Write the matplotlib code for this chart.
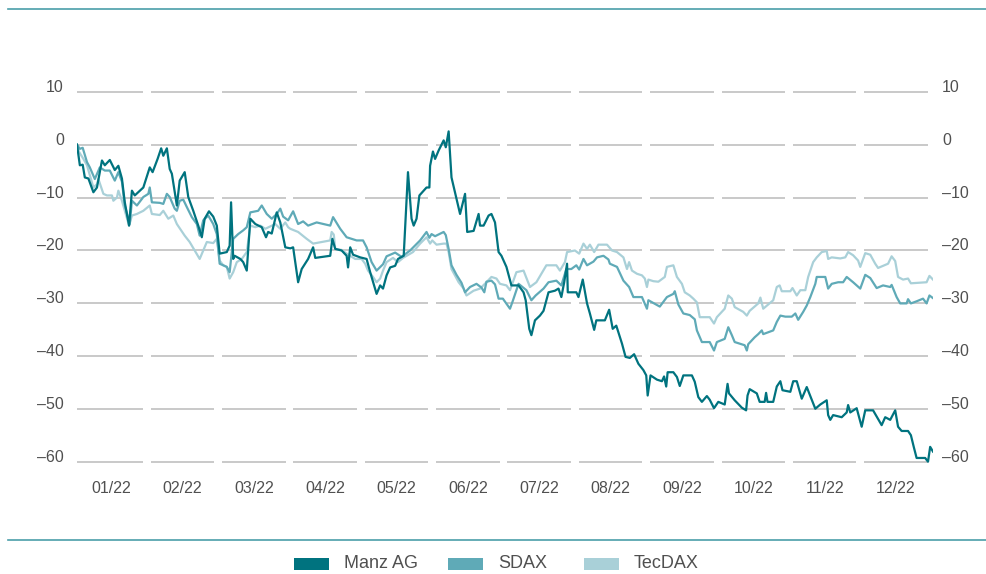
import matplotlib.pyplot as plt
from matplotlib.lines import Line2D
from matplotlib.patches import Rectangle

# x values are months since 1 Jan 2022, y values are % change
months = ['01/22', '02/22', '03/22', '04/22', '05/22', '06/22',
          '07/22', '08/22', '09/22', '10/22', '11/22', '12/22']
yticks = [10, 0, -10, -20, -30, -40, -50, -60]

manz_t = [0.00, 0.04, 0.08, 0.11, 0.16, 0.23, 0.28, 0.35, 0.39, 0.46, 0.53, 0.58, 0.63, 0.67,
          0.73, 0.77, 0.81, 0.93, 1.02, 1.06, 1.13, 1.18, 1.21, 1.26, 1.30, 1.33, 1.40, 1.44,
          1.51, 1.56, 1.63, 1.70, 1.75, 1.79, 1.85, 1.91, 1.96, 2.00, 2.10, 2.14, 2.16, 2.19,
          2.21, 2.29, 2.33, 2.38, 2.43, 2.50, 2.59, 2.65, 2.68, 2.73, 2.80, 2.85, 2.92, 2.99,
          3.03, 3.10, 3.15, 3.24, 3.31, 3.34, 3.55, 3.58, 3.62, 3.71, 3.78, 3.80, 3.83, 3.87,
          3.97, 4.06, 4.11, 4.20, 4.25, 4.29, 4.34, 4.39, 4.46, 4.50, 4.58, 4.64, 4.69, 4.72,
          4.76, 4.80, 4.90, 4.94, 4.95, 4.99, 5.02, 5.07, 5.14, 5.17, 5.21, 5.25, 5.37, 5.44,
          5.47, 5.56, 5.63, 5.65, 5.70, 5.77, 5.81, 5.86, 5.91, 5.95, 6.02, 6.09, 6.19, 6.26,
          6.29, 6.34, 6.37, 6.42, 6.49, 6.54, 6.61, 6.70, 6.75, 6.79, 6.83, 6.87, 6.88, 7.00,
          7.03, 7.09, 7.15, 7.19, 7.25, 7.28, 7.40, 7.46, 7.51, 7.56, 7.64, 7.69, 7.75, 7.81,
          7.87, 7.94, 7.98, 8.00, 8.04, 8.13, 8.20, 8.23, 8.26, 8.28, 8.36, 8.41, 8.45, 8.50,
          8.62, 8.66, 8.71, 8.76, 8.83, 8.87, 8.93, 8.99, 9.08, 9.12, 9.14, 9.22, 9.32, 9.38,
          9.40, 9.43, 9.53, 9.57, 9.64, 9.66, 9.68, 9.76, 9.81, 9.86, 9.89, 10.00, 10.04, 10.09,
          10.16, 10.23, 10.35, 10.42, 10.51, 10.53, 10.56, 10.60, 10.72, 10.79, 10.81, 10.84,
          10.93, 11.00, 11.05, 11.16, 11.28, 11.33, 11.40, 11.47, 11.51, 11.56, 11.65, 11.69,
          11.73, 11.77, 11.89, 11.93, 11.96, 12.00]
manz_v = [0.0, -3.9, -3.8, -6.2, -6.4, -9.0, -8.1, -3.0, -3.9, -2.9, -4.8, -4.0, -6.4, -10.9,
          -15.3, -8.7, -9.6, -8.1, -4.3, -5.2, -2.7, -0.7, -2.1, -0.7, -4.6, -5.5, -11.5, -6.8,
          -5.2, -9.9, -12.5, -15.3, -17.5, -14.0, -12.6, -13.6, -15.3, -20.6, -20.3, -19.1, -10.9, -21.6,
          -21.0, -21.6, -22.2, -23.8, -14.0, -15.0, -15.6, -17.5, -16.5, -16.8, -12.8, -14.7, -19.4, -19.6,
          -19.4, -26.0, -23.5, -21.6, -19.4, -21.4, -21.0, -17.8, -19.7, -20.0, -21.0, -23.2, -19.4, -20.8,
          -21.3, -21.6, -24.1, -28.2, -26.6, -27.2, -24.7, -23.2, -22.9, -21.6, -21.0, -5.2, -14.0, -15.3,
          -14.0, -9.6, -8.1, -8.1, -4.0, -1.3, -2.7, -1.1, 0.8, -0.5, 2.5, -6.2, -13.1, -9.3,
          -16.5, -16.3, -13.1, -15.3, -15.3, -13.4, -13.1, -14.7, -20.3, -21.0, -23.1, -26.6, -26.6, -27.9,
          -29.4, -34.8, -36.0, -33.2, -32.3, -31.4, -27.9, -27.6, -27.2, -28.8, -26.0, -22.5, -27.9, -27.9,
          -28.8, -25.5, -30.0, -31.9, -35.0, -33.2, -33.2, -31.2, -34.8, -34.2, -37.6, -40.1, -40.3, -39.6,
          -41.4, -42.6, -43.6, -47.4, -43.6, -44.4, -44.7, -43.8, -45.7, -43.0, -43.0, -43.9, -45.6, -43.6,
          -43.6, -44.8, -47.7, -48.6, -47.5, -48.2, -49.8, -48.6, -49.1, -45.2, -47.0, -48.3, -49.7, -50.2,
          -47.4, -46.2, -47.0, -48.6, -48.6, -46.9, -48.6, -48.6, -45.7, -44.7, -46.4, -46.7, -44.7, -44.7,
          -48.0, -45.8, -49.9, -49.1, -48.3, -51.1, -52.0, -51.1, -51.5, -50.6, -49.2, -50.6,
          -49.8, -53.3, -50.2, -50.2, -53.0, -51.5, -52.0, -50.2, -53.3, -54.1, -54.1, -54.9,
          -57.1, -59.2, -59.2, -59.9, -57.1, -58.0]

sdax_t = [0.00, 0.04, 0.08, 0.14, 0.18, 0.25, 0.32, 0.39, 0.46, 0.53, 0.58, 0.63, 0.67, 0.72,
          0.74, 0.77, 0.84, 0.93, 1.00, 1.02, 1.05, 1.16, 1.21, 1.26, 1.30, 1.37, 1.40, 1.44,
          1.49, 1.54, 1.61, 1.68, 1.72, 1.77, 1.84, 1.91, 1.96, 2.00, 2.10, 2.14, 2.19, 2.26,
          2.33, 2.38, 2.43, 2.54, 2.59, 2.66, 2.73, 2.80, 2.85, 2.89, 2.96, 3.03, 3.10, 3.17,
          3.24, 3.36, 3.55, 3.59, 3.69, 3.78, 3.92, 4.01, 4.06, 4.13, 4.20, 4.29, 4.34, 4.46,
          4.55, 4.67, 4.81, 4.90, 4.94, 4.97, 5.02, 5.14, 5.17, 5.21, 5.25, 5.32, 5.39, 5.44,
          5.51, 5.60, 5.67, 5.71, 5.74, 5.81, 5.86, 5.91, 5.97, 6.07, 6.11, 6.19, 6.30, 6.37,
          6.43, 6.54, 6.61, 6.72, 6.79, 6.86, 6.93, 7.00, 7.04, 7.10, 7.15, 7.24, 7.29, 7.38,
          7.45, 7.47, 7.57, 7.66, 7.74, 7.80, 7.92, 7.99, 8.01, 8.17, 8.27, 8.36, 8.38, 8.43,
          8.50, 8.59, 8.66, 8.69, 8.76, 8.87, 8.93, 8.97, 9.08, 9.13, 9.18, 9.22, 9.36, 9.39,
          9.41, 9.50, 9.55, 9.60, 9.62, 9.76, 9.81, 9.86, 9.93, 10.02, 10.07, 10.11, 10.18, 10.23,
          10.28, 10.35, 10.37, 10.49, 10.53, 10.58, 10.67, 10.74, 10.79, 10.88, 10.98, 11.05, 11.12,
          11.21, 11.30, 11.40, 11.42, 11.49, 11.54, 11.63, 11.65, 11.69, 11.77, 11.86, 11.91, 11.95,
          12.00]
sdax_v = [0.0, -0.8, -0.6, -3.3, -4.3, -6.5, -4.3, -4.9, -4.9, -6.8, -5.2, -7.0, -11.5, -14.0,
          -15.0, -10.6, -11.5, -9.9, -9.3, -8.1, -10.9, -11.0, -11.2, -9.3, -9.9, -12.1, -12.5, -10.6,
          -10.4, -11.8, -13.7, -15.0, -17.2, -14.3, -13.4, -15.0, -16.9, -22.5, -23.1, -24.1, -17.8, -16.9,
          -16.2, -15.6, -12.8, -12.5, -11.5, -13.1, -14.0, -13.1, -12.1, -13.6, -14.3, -12.6, -15.0, -14.5,
          -15.3, -14.7, -15.3, -13.7, -15.9, -17.5, -18.1, -18.1, -19.4, -22.2, -23.8, -22.6, -21.1, -20.4,
          -21.2, -20.0, -18.1, -16.5, -17.6, -16.9, -17.3, -16.5, -17.1, -19.7, -22.8, -24.6, -26.1, -27.9,
          -26.9, -26.3, -27.0, -27.9, -25.9, -25.7, -26.4, -29.1, -29.1, -31.0, -29.5, -26.3, -27.5, -29.4,
          -28.5, -27.2, -26.0, -25.7, -26.6, -23.5, -23.5, -22.8, -23.6, -21.6, -22.8, -22.1, -21.3, -21.0,
          -21.7, -22.5, -23.1, -25.7, -26.9, -28.8, -28.8, -31.0, -29.4, -30.6, -28.8, -28.2, -27.7, -30.2,
          -31.9, -32.2, -33.0, -35.1, -37.3, -37.3, -38.9, -37.3, -36.7, -34.5, -36.0, -37.3, -37.9, -38.9,
          -37.7, -36.4, -35.8, -35.1, -35.8, -35.1, -33.5, -32.3, -32.5, -32.5, -31.9, -33.1, -31.6, -30.4,
          -28.8, -26.3, -25.0, -25.0, -27.2, -26.3, -26.0, -26.0, -25.0, -26.0, -27.2, -24.6, -25.2,
          -27.1, -26.6, -26.9, -26.5, -28.8, -30.0, -30.0, -29.2, -30.0, -29.6, -29.1, -30.0, -28.5,
          -29.0]

tecdax_t = [0.00, 0.03, 0.09, 0.14, 0.18, 0.23, 0.28, 0.30, 0.37, 0.42, 0.49, 0.51, 0.56, 0.58,
            0.63, 0.67, 0.73, 0.77, 0.84, 0.93, 1.02, 1.05, 1.16, 1.21, 1.28, 1.35, 1.40, 1.51,
            1.58, 1.65, 1.72, 1.77, 1.82, 1.91, 1.96, 2.00, 2.05, 2.10, 2.14, 2.19, 2.24, 2.31,
            2.38, 2.43, 2.50, 2.57, 2.64, 2.78, 2.85, 2.92, 2.96, 2.99, 3.10, 3.22, 3.31, 3.55,
            3.57, 3.60, 3.62, 3.71, 3.78, 3.90, 3.99, 4.04, 4.08, 4.15, 4.20, 4.25, 4.29, 4.34,
            4.43, 4.50, 4.57, 4.71, 4.81, 4.90, 4.95, 4.98, 5.04, 5.14, 5.18, 5.21, 5.25, 5.35,
            5.42, 5.46, 5.56, 5.65, 5.74, 5.81, 5.88, 5.93, 6.02, 6.07, 6.16, 6.26, 6.35, 6.44,
            6.58, 6.72, 6.77, 6.84, 6.87, 6.98, 7.04, 7.10, 7.15, 7.19, 7.25, 7.31, 7.43, 7.50,
            7.57, 7.66, 7.71, 7.74, 7.78, 7.85, 7.92, 7.96, 7.99, 8.01, 8.08, 8.15, 8.24, 8.27,
            8.36, 8.41, 8.48, 8.52, 8.59, 8.64, 8.69, 8.73, 8.87, 8.93, 8.97, 9.08, 9.13, 9.18,
            9.22, 9.34, 9.39, 9.43, 9.55, 9.58, 9.62, 9.76, 9.81, 9.85, 9.88, 10.00, 10.03, 10.09,
            10.14, 10.21, 10.25, 10.32, 10.37, 10.44, 10.51, 10.53, 10.58, 10.70, 10.77, 10.81,
            10.88, 10.95, 10.98, 11.05, 11.12, 11.19, 11.23, 11.30, 11.37, 11.42, 11.47, 11.51,
            11.58, 11.65, 11.69, 11.91, 11.95, 12.00]
tecdax_v = [0.0, -1.4, -2.7, -3.9, -5.8, -8.1, -7.5, -6.5, -9.3, -9.6, -9.6, -10.6, -10.0, -8.7,
            -10.6, -12.5, -15.3, -13.4, -13.1, -12.5, -11.5, -13.1, -13.3, -12.5, -14.0, -13.4, -15.0, -17.2,
            -18.4, -20.0, -21.6, -20.0, -18.4, -18.6, -17.8, -21.9, -22.8, -23.1, -25.3, -24.1, -22.2, -21.6,
            -20.3, -15.3, -15.6, -15.3, -15.9, -15.0, -15.9, -14.7, -15.6, -15.9, -16.5, -17.8, -18.7, -18.1,
            -16.5, -17.0, -19.7, -19.9, -20.6, -21.6, -21.6, -22.5, -23.8, -25.0, -26.0, -25.3, -23.8, -22.2,
            -21.4, -22.2, -21.4, -20.3, -18.7, -17.5, -18.7, -18.1, -18.9, -18.7, -18.7, -20.3, -23.5, -26.0,
            -27.2, -28.5, -27.6, -27.2, -26.0, -25.0, -25.3, -26.3, -26.6, -27.5, -24.1, -23.8, -26.9, -26.0,
            -22.8, -22.8, -23.8, -22.2, -20.3, -20.0, -20.6, -18.7, -19.7, -18.9, -20.3, -18.9, -18.9, -20.0,
            -20.3, -21.3, -23.5, -22.2, -23.8, -24.4, -24.7, -25.3, -26.9, -25.5, -25.8, -25.9, -25.0, -23.1,
            -22.8, -25.0, -26.3, -27.9, -28.5, -29.1, -29.8, -32.6, -32.6, -33.8, -32.6, -31.0, -28.5, -29.1,
            -30.7, -31.6, -32.3, -31.4, -30.0, -28.9, -31.0, -29.4, -26.9, -26.6, -27.7, -27.7, -27.1, -28.5,
            -27.5, -27.5, -25.0, -22.2, -21.3, -20.3, -20.1, -21.6, -21.3, -21.5, -21.3, -20.3,
            -20.9, -21.9, -23.1, -20.5, -20.8, -22.5, -23.3, -22.9, -22.5, -21.1, -22.0, -25.0,
            -25.5, -25.3, -26.2, -26.0, -24.8, -25.5]

series_names = ['Manz AG', 'SDAX', 'TecDAX']
series_colors = ['#00737f', '#5faab7', '#a9d0d8']
text_color = '#505050'
rule_color = '#4a9ea9'
grid_color = '#c0c0c0'

plt.rcParams['font.family'] = ['Liberation Sans', 'DejaVu Sans']

fig = plt.figure(figsize=(9.87, 5.74), dpi=100)
ax = fig.add_axes([0.078, 0.1671, 0.8673, 0.6916])
ax.set_xlim(0, 12)
ax.set_ylim(-63, 12)

# gridlines are broken into one segment per month
for y in yticks:
    for k in range(len(months)):
        start = k + 0.035 if k else 0
        ax.hlines(y, start, k + 0.925, color=grid_color, lw=1.2, zorder=1)

ax.plot(tecdax_t, tecdax_v, color=series_colors[2], lw=1.6, zorder=2)
ax.plot(sdax_t, sdax_v, color=series_colors[1], lw=1.6, zorder=3)
ax.plot(manz_t, manz_v, color=series_colors[0], lw=1.6, zorder=4)

for s in ax.spines.values():
    s.set_visible(False)

ylabels = ['–' + str(-y) if y < 0 else str(y) for y in yticks]
ax.set_xticks([k + 0.48 for k in range(len(months))], months)
ax.tick_params(axis='x', length=0, pad=2, labelsize=11.5, labelcolor=text_color)
ax.set_yticks(yticks, ylabels)
ax.tick_params(axis='y', length=0, pad=9.5, labelsize=11.5, labelcolor=text_color)

ax2 = ax.twinx()
ax2.set_ylim(ax.get_ylim())
ax2.set_yticks(yticks, ylabels)
ax2.tick_params(axis='y', length=0, pad=6.5, labelsize=11.5, labelcolor=text_color)
for s in ax2.spines.values():
    s.set_visible(False)

# value labels sit on the gridline rather than centred on it
for lab in ax.get_yticklabels() + ax2.get_yticklabels():
    lab.set_va('baseline')

# horizontal rules at top and bottom
fig.add_artist(Line2D([8 / 987, 1], [1 - 9 / 574] * 2, color=rule_color, lw=1.2))
fig.add_artist(Line2D([8 / 987, 1], [1 - 540 / 574] * 2, color=rule_color, lw=1.2))

# legend
patch_x = [294, 448, 584]
for name, color, px in zip(series_names, series_colors, patch_x):
    fig.add_artist(Rectangle((px / 987, 4 / 574), 35 / 987, 12 / 574,
                             transform=fig.transFigure, color=color, lw=0))
    fig.text((px + 50) / 987, 10 / 574, name, fontsize=13, color=text_color,
             ha='left', va='center')

fig.savefig('out.png', dpi=100)
